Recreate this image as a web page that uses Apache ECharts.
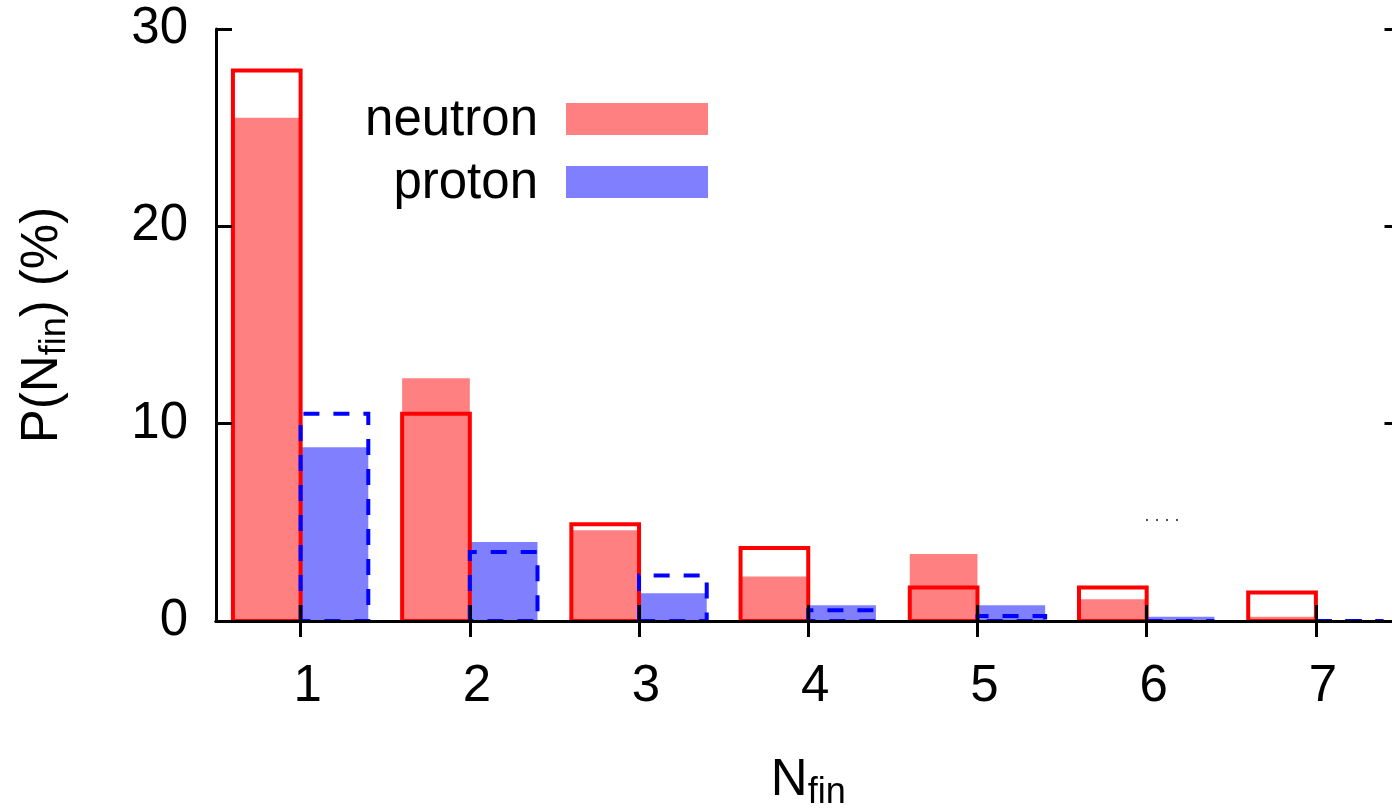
<!DOCTYPE html>
<html>
<head>
<meta charset="utf-8">
<script src="https://cdn.jsdelivr.net/npm/echarts@6/dist/echarts.min.js"></script>
<style>
  html, body { margin: 0; padding: 0; background: #ffffff; }
  #chart { width: 1392px; height: 812px; }
</style>
</head>
<body>
<div id="chart"></div>
<script>
// Multiplicity N_fin of final-state nucleons (percent)
const categories = [1, 2, 3, 4, 5, 6, 7];
// filled boxes
const neutronFilled = [25.5, 12.3, 4.6, 2.25, 3.4, 1.1, 0.22];
const protonFilled  = [8.8, 4.0, 1.4, 0.8, 0.8, 0.22, 0];
// open (outlined) boxes
const neutronOpen = [27.9, 10.5, 4.9, 3.7, 1.7, 1.7, 1.45];
const protonOpen  = [10.5, 3.5, 2.3, 0.55, 0.25, 0, 0];
const xTicks = [1, 2, 3, 4, 5, 6, 7];
const yTicks = [0, 10, 20, 30];
const legendNames = ['neutron', 'proton'];

const RED_FILL = '#ff8080', BLUE_FILL = '#8080ff';
const RED_LINE = '#ff0000', BLUE_LINE = '#0000ff';
const BOX_W = 0.4;
const FONT = "'Liberation Sans', Arial, Helvetica, sans-serif";
const FS = 51;

function pairs(vals) { return categories.map((c, i) => [c, vals[i]]); }

function boxSeries(name, vals, offset, style) {
  return {
    type: 'custom',
    name: name,
    data: pairs(vals),
    z: style.z,
    renderItem: function (params, api) {
      const c = api.value(0), v = api.value(1);
      const a = api.coord([c + offset, 0]);
      const b = api.coord([c + offset + BOX_W, v]);
      if (style.fill) {
        return {
          type: 'rect',
          shape: { x: a[0], y: b[1], width: b[0] - a[0], height: a[1] - b[1] },
          style: { fill: style.fill }
        };
      }
      return {
        type: 'polygon',
        shape: { points: [[a[0], a[1]], [a[0], b[1]], [b[0], b[1]], [b[0], a[1]]] },
        style: { fill: 'none', stroke: style.stroke, lineWidth: 4, lineDash: style.dash || null }
      };
    }
  };
}

const chart = echarts.init(document.getElementById('chart'), null, { renderer: 'canvas' });

const subRich = {
  main: { fontSize: FS, fontFamily: FONT, color: '#000' },
  sub: { fontSize: 36, fontFamily: FONT, color: '#000', padding: [24, 0, 0, 0] }
};

const axisLineStyle = { lineStyle: { color: '#000', width: 3 } };
const tickStyle = { color: '#000', width: 3 };

chart.setOption({
  animation: false,
  backgroundColor: '#ffffff',
  grid: { left: 216, top: 29, width: 1184.5, height: 592, containLabel: false, outerBoundsMode: 'none' },
  xAxis: [{
    type: 'value', min: 0.5, max: 7.5, position: 'bottom', z: 10,
    axisLine: axisLineStyle,
    splitLine: { show: false },
    axisTick: { inside: true, length: 16, lineStyle: tickStyle, customValues: xTicks },
    axisLabel: { customValues: xTicks, fontSize: FS, fontFamily: FONT, color: '#000', margin: 40, padding: [0, 0, 0, 14] },
    name: '{main|N}{sub|fin}', nameLocation: 'middle', nameGap: 130,
    nameTextStyle: { rich: subRich }
  }, {
    type: 'value', min: 0.5, max: 7.5, position: 'top', z: 10,
    axisLine: axisLineStyle,
    splitLine: { show: false },
    axisTick: { inside: true, length: 16, lineStyle: tickStyle, customValues: xTicks },
    axisLabel: { show: false }
  }],
  yAxis: [{
    type: 'value', min: yTicks[0], max: yTicks[yTicks.length - 1], interval: 10, position: 'left', z: 10,
    axisLine: { show: true, lineStyle: { color: '#000', width: 3 } },
    splitLine: { show: false },
    axisTick: { inside: true, length: 16, lineStyle: tickStyle },
    axisLabel: { fontSize: FS, fontFamily: FONT, color: '#000', margin: 28 },
    name: '{main|P(N}{sub|fin}{main|) (%)}', nameLocation: 'middle', nameGap: 143, nameRotate: 90,
    nameTextStyle: { rich: subRich }
  }, {
    type: 'value', min: yTicks[0], max: yTicks[yTicks.length - 1], interval: 10, position: 'right', z: 10,
    axisLine: { show: true, lineStyle: { color: '#000', width: 3 } },
    splitLine: { show: false },
    axisTick: { inside: true, length: 16, lineStyle: tickStyle },
    axisLabel: { show: false }
  }],
  series: [
    boxSeries('neutron', neutronFilled, -BOX_W, { fill: RED_FILL, z: 2 }),
    boxSeries('proton', protonFilled, 0, { fill: BLUE_FILL, z: 2 }),
    boxSeries('neutron open', neutronOpen, -BOX_W, { stroke: RED_LINE, z: 3 }),
    boxSeries('proton open', protonOpen, 0, { stroke: BLUE_LINE, dash: [16, 14], z: 4 })
  ],
  graphic: [
    { type: 'text', x: 538, y: 121, z: 20,
      style: { text: legendNames[0], font: FS + 'px ' + FONT, fill: '#000', align: 'right', verticalAlign: 'middle' } },
    { type: 'rect', x: 566, y: 103, z: 20, shape: { width: 142, height: 32 }, style: { fill: RED_FILL } },
    { type: 'text', x: 538, y: 184, z: 20,
      style: { text: legendNames[1], font: FS + 'px ' + FONT, fill: '#000', align: 'right', verticalAlign: 'middle' } },
    { type: 'rect', x: 566, y: 166, z: 20, shape: { width: 142, height: 32 }, style: { fill: BLUE_FILL } },
    { type: 'text', x: 1162, y: 516, z: 20,
      style: { text: '. . . .', font: '18px ' + FONT, fill: '#333', align: 'center', verticalAlign: 'middle' } }
  ]
});
</script>
</body>
</html>
